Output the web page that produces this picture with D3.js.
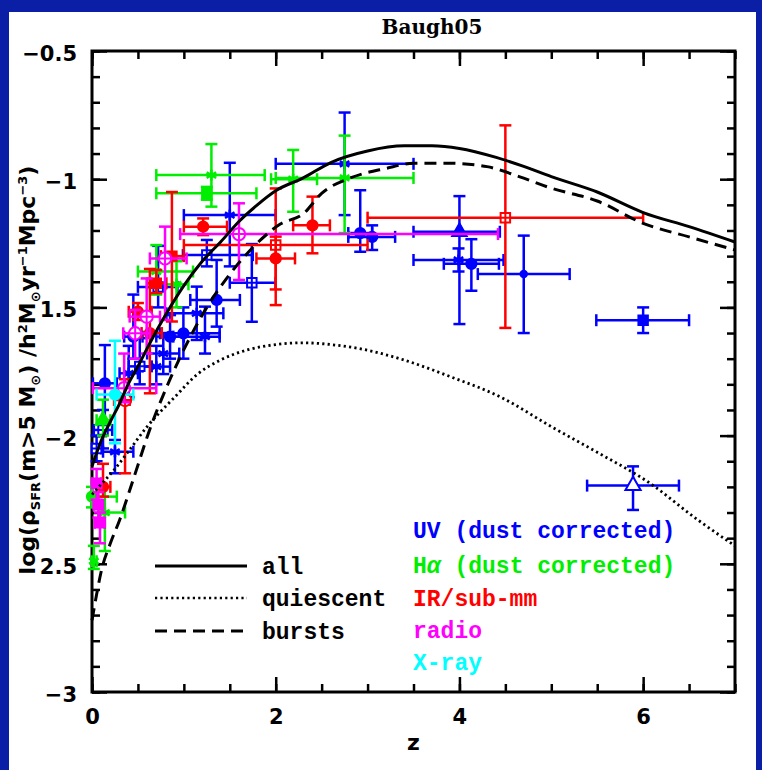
<!DOCTYPE html>
<html>
<head>
<meta charset="utf-8">
<script src="https://cdn.jsdelivr.net/npm/d3@7"></script>
<style>
  html, body { margin: 0; padding: 0; background: #0b1fa6; }
  svg { display: block; }
</style>
</head>
<body>
<svg id="chart" width="762" height="770"></svg>
<script>
// model curves (log SFR density vs z)
const allZ = [0, 0.1, 0.2, 0.3, 0.4, 0.5, 0.6, 0.8, 1.0, 1.2, 1.4, 1.6, 1.8, 2.0, 2.3, 2.6, 3.0, 3.4, 3.7, 4.0, 4.4, 4.7, 5.0, 5.5, 6.0, 6.5, 7.0];
const allSFR = [-2.12, -2.02, -1.945, -1.875, -1.795, -1.73, -1.66, -1.53, -1.415, -1.32, -1.245, -1.165, -1.10, -1.045, -0.995, -0.935, -0.89, -0.87, -0.87, -0.88, -0.915, -0.95, -0.99, -1.05, -1.13, -1.185, -1.245];
const quiZ = [0, 0.1, 0.25, 0.4, 0.6, 0.9, 1.15, 1.4, 1.7, 2.0, 2.3, 2.6, 2.9, 3.35, 3.9, 4.45, 5.0, 5.5, 6.05, 6.6, 7.0];
const quiSFR = [-2.23, -2.19, -2.13, -2.06, -1.965, -1.85, -1.76, -1.705, -1.665, -1.645, -1.638, -1.645, -1.66, -1.70, -1.77, -1.85, -1.965, -2.065, -2.18, -2.33, -2.43];
const burZ = [0, 0.05, 0.1, 0.2, 0.3, 0.45, 0.63, 0.85, 1.07, 1.25, 1.47, 1.76, 2.05, 2.3, 2.5, 2.8, 3.2, 3.5, 3.9, 4.3, 4.65, 5.0, 5.5, 6.0, 6.5, 7.0];
const burSFR = [-2.72, -2.62, -2.53, -2.42, -2.33, -2.17, -1.975, -1.78, -1.615, -1.50, -1.385, -1.263, -1.175, -1.135, -1.055, -0.997, -0.958, -0.938, -0.938, -0.951, -0.99, -1.035, -1.085, -1.172, -1.225, -1.276];

// observations: z, value, z range, value range, symbol
const uvZ = [6.0, 5.89, 4.70, 4.13, 4.0, 3.99, 2.92, 3.05, 2.75, 1.50, 1.74, 1.357, 1.25, 1.14, 0.995, 1.23, 0.85, 0.776, 0.70, 0.52, 0.45, 0.40, 0.14, 0.12, 0.25, 0.05, 0.72];
const uvSFR = [-1.55, -2.195, -1.37, -1.33, -1.205, -1.315, -1.21, -1.225, -0.94, -1.14, -1.404, -1.471, -1.296, -1.523, -1.601, -1.614, -1.614, -1.68, -1.731, -1.73, -1.614, -1.757, -1.796, -1.978, -2.063, -2.05, -1.42];
const uvZlo = [5.49, 5.39, 4.2, 3.83, 3.5, 3.5, 2.79, 2.79, 2.0, 1.0, 1.5, 1.07, 0.99, 0.81, 0.74, 0.885, 0.70, 0.6, 0.55, 0.4, 0.35, 0.3, 0.01, 0.02, 0.12, 0.0, 0.5];
const uvZhi = [6.5, 6.39, 5.2, 4.43, 4.44, 4.48, 3.05, 3.30, 3.5, 2.0, 2.0, 1.61, 1.75, 1.43, 1.39, 1.39, 1.0, 0.95, 0.85, 0.65, 0.55, 0.5, 0.27, 0.22, 0.45, 0.1, 0.93];
const uvLo = [-1.60, -2.29, -1.60, -1.435, -1.565, -1.36, -1.283, -1.276, -1.14, -1.34, -1.556, -1.575, -1.34, -1.627, -1.70, -1.68, -1.70, -1.76, -1.80, -1.80, -1.70, -1.85, -1.95, -2.05, -2.147, -2.10, -1.50];
const uvHi = [-1.50, -2.12, -1.22, -1.234, -1.066, -1.27, -1.043, -1.18, -0.74, -0.936, -1.253, -1.315, -1.237, -1.419, -1.50, -1.497, -1.53, -1.60, -1.65, -1.62, -1.45, -1.65, -1.647, -1.90, -2.017, -2.0, -1.26];
const uvSym = ["sqfill", "triOpen", "dot", "circle", "tri", "star", "circle", "circle", "star", "star", "sqOpen", "circle", "sqOpen", "star", "circle", "star", "circle", "star", "star", "sqOpen", "circle", "star", "circle", "sqOpen", "star", "sqOpen", "sqOpen"];

const haZ = [1.30, 1.25, 2.19, 2.75, 0.70, 0.92, 0.12, 0.0, 0.14, 0.02];
const haSFR = [-0.984, -1.055, -1.0, -0.995, -1.36, -1.41, -1.94, -2.238, -2.30, -2.49];
const haZlo = [0.70, 0.70, 1.95, 2.0, 0.50, 0.8, 0.05, 0.0, 0.07, 0.0];
const haZhi = [1.88, 1.79, 2.45, 3.5, 1.10, 1.05, 0.2, 0.27, 0.36, 0.05];
const haLo = [-1.107, -1.08, -1.127, -1.21, -1.45, -1.50, -2.0, -2.28, -2.45, -2.52];
const haHi = [-0.863, -1.03, -0.886, -0.83, -1.257, -1.32, -1.86, -2.2, -2.2, -2.43];
const haSym = ["star", "sqfill", "star", "star", "star", "star", "tri", "circle", "star", "star"];

const irZ = [4.5, 2.40, 2.0, 2.0, 1.21, 0.87, 0.70, 0.50, 0.63, 0.36, 0.12];
const irSFR = [-1.15, -1.18, -1.257, -1.309, -1.185, -1.30, -1.406, -1.517, -1.60, -1.861, -2.2];
const irZlo = [3.0, 2.19, 1.0, 1.79, 1.0, 0.75, 0.60, 0.40, 0.54, 0.24, 0.09];
const irZhi = [6.0, 2.59, 3.0, 2.21, 1.47, 1.0, 0.81, 0.65, 0.76, 0.41, 0.2];
const irLo = [-1.58, -1.289, -1.43, -1.491, -1.218, -1.555, -1.444, -1.549, -1.835, -2.147, -2.238];
const irHi = [-0.79, -1.068, -1.036, -1.224, -1.153, -1.05, -1.354, -1.483, -1.35, -1.78, -2.11];
const irSym = ["sqOpen", "circle", "sqOpen", "circle", "circle", "sqfill", "sqfill", "circle", "circle", "crossCircle", "circle"];

const radZ = [1.60, 0.795, 0.595, 0.47, 0.35, 0.05, 0.07, 0.087];
const radSFR = [-1.214, -1.309, -1.536, -1.601, -1.815, -2.186, -2.27, -2.34];
const radZlo = [0.96, 0.63, 0.41, 0.34, 0.01, 0.0, 0.02, 0.03];
const radZhi = [4.42, 1.03, 0.74, 0.63, 0.70, 0.1, 0.12, 0.14];
const radLo = [-1.393, -1.549, -1.68, -1.70, -1.87, -2.25, -2.32, -2.42];
const radHi = [-1.094, -1.185, -1.387, -1.51, -1.68, -2.13, -2.22, -2.30];
const radSym = ["crossCircle", "crossCircle", "crossCircle", "crossCircle", "crossCircle", "sqfill", "sqfill", "sqfill"];

const xrZ = [0.25];
const xrSFR = [-1.84];
const xrZlo = [0.05];
const xrZhi = [0.45];
const xrLo = [-2.03];
const xrHi = [-1.63];
const xrSym = ["circle"];

const xMajor = [0, 2, 4, 6];
const yMajor = [-3, -2.5, -2, -1.5, -1, -0.5];
const yTickLabels = ["\u22123", "2.5", "\u22122", "1.5", "\u22121", "\u22120.5"];

const svg = d3.select("#chart");

// white page inside the blue frame
svg.append("rect").attr("x", 9).attr("y", 12).attr("width", 747).attr("height", 758).attr("fill", "#fff");

const x = d3.scaleLinear().domain([0, 7]).range([92, 735]);
const y = d3.scaleLinear().domain([-3, -0.5]).range([692, 51]);

const xMinor = d3.range(0, 7.01, 0.5);
const yMinor = d3.range(-3, -0.49, 0.1).map(d => +d.toFixed(2));

function addAxis(axisFn, scale, values, size, transform, fmt) {
    const g = svg.append("g")
        .attr("transform", transform)
        .call(axisFn(scale).tickValues(values).tickSizeInner(-size).tickSizeOuter(0).tickFormat(fmt || (() => "")));
    g.select(".domain").remove();
    g.selectAll(".tick line").attr("stroke", "#000").attr("stroke-width", 2.5);
    return g;
}

// ticks on all four sides, pointing in
addAxis(d3.axisBottom, x, xMinor, 8, "translate(0,692)");
addAxis(d3.axisTop, x, xMinor, 8, "translate(0,51)");
addAxis(d3.axisLeft, y, yMinor, 8, "translate(92,0)");
addAxis(d3.axisRight, y, yMinor, 8, "translate(735,0)");
addAxis(d3.axisTop, x, xMajor, 15, "translate(0,51)");
addAxis(d3.axisRight, y, yMajor, 15, "translate(735,0)");

const xAx = addAxis(d3.axisBottom, x, xMajor, 15, "translate(0,692)", d3.format("d"));
xAx.selectAll(".tick text")
    .attr("y", 17)
    .attr("font-family", "DejaVu Sans")
    .attr("font-weight", "bold")
    .attr("font-size", 21)
    .attr("fill", "#000");

const yAx = addAxis(d3.axisLeft, y, yMajor, 15, "translate(92,0)", (d, i) => yTickLabels[i]);
yAx.selectAll(".tick text")
    .attr("x", -15)
    .attr("dy", "0.45em")
    .attr("font-family", "DejaVu Sans")
    .attr("font-weight", "bold")
    .attr("font-size", 21)
    .attr("fill", "#000");

// frame
svg.append("rect")
    .attr("x", x(0)).attr("y", y(-0.5))
    .attr("width", x(7) - x(0)).attr("height", y(-3) - y(-0.5))
    .attr("fill", "none").attr("stroke", "#000").attr("stroke-width", 3);

// data points with error bars
const plot = svg.append("g");
const cap = 6;

function drawSeries(zs, vs, zlo, zhi, lo, hi, sym, color) {
    const g = plot.append("g").attr("stroke", color).attr("stroke-width", 2.5).attr("fill", "none");
    zs.forEach((z, i) => {
        const cx = x(z), cy = y(vs[i]);
        const x0 = x(zlo[i]), x1 = x(zhi[i]);
        const y0 = y(lo[i]), y1 = y(hi[i]);
        g.append("line").attr("x1", x0).attr("x2", x1).attr("y1", cy).attr("y2", cy);
        g.append("line").attr("x1", x0).attr("x2", x0).attr("y1", cy - cap).attr("y2", cy + cap);
        g.append("line").attr("x1", x1).attr("x2", x1).attr("y1", cy - cap).attr("y2", cy + cap);
        g.append("line").attr("x1", cx).attr("x2", cx).attr("y1", y0).attr("y2", y1);
        g.append("line").attr("x1", cx - cap).attr("x2", cx + cap).attr("y1", y0).attr("y2", y0);
        g.append("line").attr("x1", cx - cap).attr("x2", cx + cap).attr("y1", y1).attr("y2", y1);

        const s = sym[i];
        const m = g.append("g").attr("transform", `translate(${cx},${cy})`);
        if (s === "circle") {
            m.append("path").attr("d", d3.symbol(d3.symbolCircle, 75)()).attr("fill", color);
        } else if (s === "dot") {
            m.append("path").attr("d", d3.symbol(d3.symbolCircle, 28)()).attr("fill", color);
        } else if (s === "sqfill") {
            m.append("path").attr("d", d3.symbol(d3.symbolSquare, 80)()).attr("fill", color);
        } else if (s === "sqOpen") {
            m.append("path").attr("d", d3.symbol(d3.symbolSquare, 90)()).attr("fill", "#fff").attr("stroke-width", 2);
            m.append("path").attr("d", "M-4.7,0H4.7M0,-4.7V4.7").attr("stroke-width", 2);
        } else if (s === "crossCircle") {
            m.append("path").attr("d", d3.symbol(d3.symbolCircle, 120)()).attr("fill", "#fff").attr("stroke-width", 2);
            m.append("path").attr("d", "M-6.2,0H6.2M0,-6.2V6.2").attr("stroke-width", 2);
        } else if (s === "tri") {
            m.append("path").attr("d", d3.symbol(d3.symbolTriangle, 80)()).attr("fill", color);
        } else if (s === "triOpen") {
            m.append("path").attr("d", d3.symbol(d3.symbolTriangle, 100)()).attr("fill", "#fff").attr("stroke-width", 2);
        } else if (s === "star") {
            // asterisk-like star, as in the original plotting package
            m.append("path").attr("d", "M0,-5.5V5.5M-4.8,-2.75L4.8,2.75M-4.8,2.75L4.8,-2.75").attr("stroke-width", 2.6);
        }
    });
}

drawSeries(uvZ, uvSFR, uvZlo, uvZhi, uvLo, uvHi, uvSym, "#0000ff");
drawSeries(haZ, haSFR, haZlo, haZhi, haLo, haHi, haSym, "#00ee00");
drawSeries(irZ, irSFR, irZlo, irZhi, irLo, irHi, irSym, "#ff0000");
drawSeries(radZ, radSFR, radZlo, radZhi, radLo, radHi, radSym, "#ff00ff");
drawSeries(xrZ, xrSFR, xrZlo, xrZhi, xrLo, xrHi, xrSym, "#00ffff");

// model curves
const line = d3.line().x(d => x(d[0])).y(d => y(d[1])).curve(d3.curveMonotoneX);
const curves = svg.append("g").attr("fill", "none").attr("stroke", "#000");
curves.append("path").attr("d", line(d3.zip(allZ, allSFR))).attr("stroke-width", 3);
curves.append("path").attr("d", line(d3.zip(quiZ, quiSFR))).attr("stroke-width", 2.8).attr("stroke-dasharray", "2.2,3.2");
curves.append("path").attr("d", line(d3.zip(burZ, burSFR))).attr("stroke-width", 3).attr("stroke-dasharray", "12,7");

// legend for curves
const legendLines = [
    { label: "all", dash: null, w: 3 },
    { label: "quiescent", dash: "2.2,3.2", w: 2.5 },
    { label: "bursts", dash: "12,7", w: 3 }
];
const legY = [566, 598, 631];
legendLines.forEach((d, i) => {
    svg.append("line")
        .attr("x1", 155).attr("x2", 247).attr("y1", legY[i]).attr("y2", legY[i])
        .attr("stroke", "#000").attr("stroke-width", d.w)
        .attr("stroke-dasharray", d.dash);
    svg.append("text")
        .attr("x", 262).attr("y", legY[i] + 8)
        .attr("font-family", "Liberation Mono").attr("font-weight", "bold").attr("font-size", 23)
        .text(d.label);
});

// legend for data sets
const setNames = [["UV", " (dust corrected)"], ["H", "\u03b1", " (dust corrected)"], ["IR/sub-mm"], ["radio"], ["X-ray"]];
const setColors = ["#0000ff", "#00ee00", "#ff0000", "#ff00ff", "#00ffff"];
const setY = [538, 573, 606, 638, 670];
setNames.forEach((parts, i) => {
    const t = svg.append("text")
        .attr("x", 413).attr("y", setY[i])
        .attr("font-family", "Liberation Mono").attr("font-weight", "bold").attr("font-size", 23)
        .attr("fill", setColors[i]);
    parts.forEach(p => {
        const ts = t.append("tspan").text(p);
        if (p === "\u03b1") ts.attr("font-style", "italic");
    });
});

// title
svg.append("text")
    .attr("x", 432).attr("y", 34)
    .attr("text-anchor", "middle")
    .attr("font-family", "DejaVu Serif").attr("font-weight", "bold").attr("font-size", 20)
    .text("Baugh05");

// x label
svg.append("text")
    .attr("x", x(3.5)).attr("y", 750)
    .attr("text-anchor", "middle")
    .attr("font-family", "DejaVu Sans").attr("font-weight", "bold").attr("font-size", 22)
    .text("z");

// y label
const yl = svg.append("text")
    .attr("transform", "translate(35,370) rotate(-90)")
    .attr("text-anchor", "middle")
    .attr("font-family", "DejaVu Sans").attr("font-weight", "bold").attr("font-size", 22);
yl.append("tspan").text("log(\u03c1");
yl.append("tspan").attr("font-size", 13).attr("dy", 5).text("SFR");
yl.append("tspan").attr("dy", -5).text("(m>5 M");
yl.append("tspan").attr("font-size", 13).attr("dy", 5).text("\u2299");
yl.append("tspan").attr("dy", -5).text(")  /h");
yl.append("tspan").attr("font-size", 13).attr("dy", -8).text("2");
yl.append("tspan").attr("dy", 8).text("M");
yl.append("tspan").attr("font-size", 13).attr("dy", 5).text("\u2299");
yl.append("tspan").attr("dy", -5).text("yr");
yl.append("tspan").attr("font-size", 13).attr("dy", -8).text("\u22121");
yl.append("tspan").attr("dy", 8).text("Mpc");
yl.append("tspan").attr("font-size", 13).attr("dy", -8).text("\u22123");
yl.append("tspan").attr("dy", 8).text(")");
</script>
</body>
</html>
